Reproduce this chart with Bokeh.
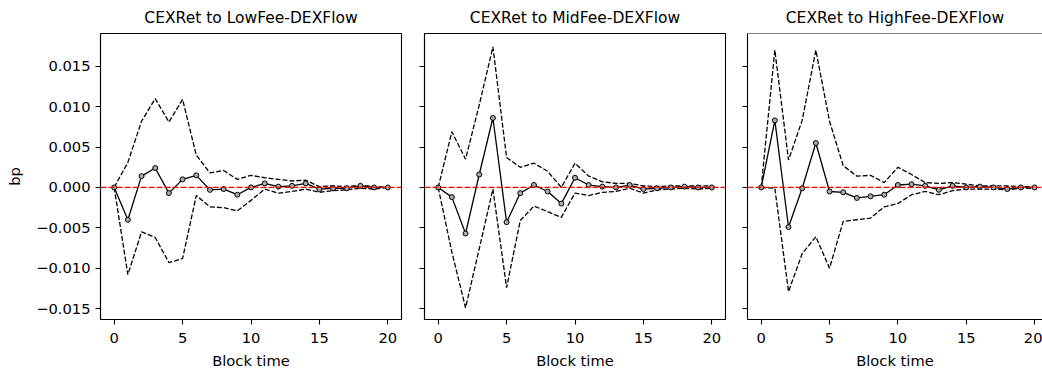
from bokeh.plotting import figure
from bokeh.layouts import row
from bokeh.models import Range1d, Span, FixedTicker, CustomJSTickFormatter
from bokeh.embed import file_html
from bokeh.resources import INLINE

steps = list(range(21))

titles = ["CEXRet to LowFee-DEXFlow", "CEXRet to MidFee-DEXFlow", "CEXRet to HighFee-DEXFlow"]

low_irf = [0, -0.0040, 0.0014, 0.0024, -0.0007, 0.0010, 0.0015, -0.0003, -0.0002, -0.0009, 0.0000,
           0.0005, 0.0001, 0.0002, 0.0005, -0.0002, -0.0001, -0.0001, 0.0002, -0.0000, 0.0000]
low_up = [0, 0.0031, 0.0082, 0.0110, 0.0081, 0.0109, 0.0040, 0.0018, 0.0021, 0.0010, 0.0015,
          0.0012, 0.0010, 0.0008, 0.0009, 0.0001, 0.0002, 0.0001, 0.0003, 0.0001, 0.0000]
low_lo = [0, -0.0108, -0.0055, -0.0062, -0.0093, -0.0088, -0.0010, -0.0024, -0.0025, -0.0029, -0.0016,
          -0.0002, -0.0007, -0.0005, -0.0002, -0.0006, -0.0004, -0.0003, -0.0001, -0.0002, 0.0000]

mid_irf = [0, -0.0012, -0.0057, 0.0016, 0.0086, -0.0043, -0.0007, 0.0003, -0.0005, -0.0020, 0.0012,
           0.0003, 0.0001, -0.0000, 0.0003, -0.0002, -0.0001, -0.0000, 0.0001, -0.0000, 0.0000]
mid_up = [0, 0.0069, 0.0035, 0.0102, 0.0174, 0.0037, 0.0025, 0.0030, 0.0020, 0.0000, 0.0030,
          0.0014, 0.0007, 0.0005, 0.0005, 0.0002, 0.0001, 0.0002, 0.0002, 0.0002, 0.0002]
mid_lo = [0, -0.0080, -0.0149, -0.0076, -0.0002, -0.0124, -0.0041, -0.0023, -0.0030, -0.0037, -0.0007,
          -0.0010, -0.0006, -0.0005, -0.0001, -0.0007, -0.0003, -0.0002, -0.0001, -0.0002, -0.0001]

high_irf = [0, 0.0083, -0.0049, -0.0001, 0.0055, -0.0005, -0.0006, -0.0013, -0.0011, -0.0009, 0.0003,
            0.0004, 0.0002, -0.0003, 0.0002, 0.0000, 0.0001, -0.0000, -0.0002, 0.0000, 0.0000]
high_up = [0, 0.0170, 0.0034, 0.0083, 0.0170, 0.0082, 0.0027, 0.0014, 0.0015, 0.0006, 0.0025,
           0.0016, 0.0006, 0.0005, 0.0006, 0.0004, 0.0002, 0.0002, 0.0002, 0.0001, 0.0001]
high_lo = [0, -0.0001, -0.0129, -0.0082, -0.0061, -0.0100, -0.0042, -0.0040, -0.0038, -0.0024, -0.0020,
           -0.0009, -0.0005, -0.0009, -0.0004, -0.0002, -0.0002, -0.0002, -0.0003, -0.0001, -0.0001]

series = [(low_irf, low_up, low_lo), (mid_irf, mid_up, mid_lo), (high_irf, high_up, high_lo)]

y_ticks = [-0.015, -0.010, -0.005, 0.0, 0.005, 0.010, 0.015]
x_ticks = [0, 5, 10, 15, 20]

FONT = "DejaVu Sans"
FS = "14.7px"
FS_TITLE = "15.5px"
Y0, Y1 = -0.01635, 0.01906

yfmt = CustomJSTickFormatter(code="""
if (Math.abs(tick) < 1e-12) return '0.000';
var s = Math.abs(tick).toFixed(3);
return tick < 0 ? '\u2212' + s : s;
""")
blank = CustomJSTickFormatter(code="return '';")

# (width, min_border_left, min_border_right, x_end)
geom = [(406, 100, 5, 21.0), (324, 18, 5, 21.0), (312, 17, 0, 20.58)]

figs = []
for i, (title, (irf, up, lo)) in enumerate(zip(titles, series)):
    w, bl, br, xend = geom[i]
    p = figure(width=w, height=373, output_backend="svg", toolbar_location=None,
               x_range=Range1d(-1.0, xend), y_range=Range1d(Y0, Y1),
               min_border_left=bl, min_border_right=br, min_border_top=31, min_border_bottom=54,
               title=title)
    p.title.align = "center"
    p.title.text_font = FONT
    p.title.text_font_size = FS_TITLE
    p.title.text_font_style = "normal"
    p.title.text_color = "black"
    p.title.standoff = 13
    p.xgrid.visible = False
    p.ygrid.visible = False
    p.background_fill_color = "white"
    p.border_fill_color = "white"
    if i < 2:
        p.outline_line_color = "black"
        p.outline_line_width = 1.1
    else:
        p.outline_line_color = None
        p.add_layout(Span(location=Y1, dimension="width", line_color="black", line_width=1.1))

    for ax in (p.xaxis[0], p.yaxis[0]):
        ax.axis_line_color = "black"
        ax.axis_line_width = 1.1
        ax.major_tick_line_color = "black"
        ax.major_tick_line_width = 1.1
        ax.major_tick_out = 5
        ax.major_tick_in = 0
        ax.minor_tick_line_color = None
        ax.major_label_text_font = FONT
        ax.major_label_text_font_size = FS
        ax.major_label_text_color = "black"
        ax.axis_label_text_font = FONT
        ax.axis_label_text_font_size = FS
        ax.axis_label_text_font_style = "normal"
        ax.axis_label_text_color = "black"

    p.xaxis.ticker = FixedTicker(ticks=x_ticks)
    p.xaxis.axis_label = "Block time"
    p.xaxis.major_label_standoff = 8
    p.xaxis.axis_label_standoff = 6
    p.yaxis.ticker = FixedTicker(ticks=y_ticks)
    if i == 0:
        p.yaxis.formatter = yfmt
        p.yaxis.axis_label = "bp"
        p.yaxis.axis_label_standoff = 10
    else:
        p.yaxis.formatter = blank

    p.line(steps, up, line_color="black", line_width=1.3, line_dash="5 2")
    p.line(steps, lo, line_color="black", line_width=1.3, line_dash="5 2")
    p.line(steps, irf, line_color="black", line_width=1.3)
    p.scatter(steps, irf, size=5, line_color="black", line_width=1, fill_color="#aaaaaa")
    p.add_layout(Span(location=0, dimension="width", line_color="red", line_width=1.3, line_dash="6 2"))
    figs.append(p)

layout = row(*figs, spacing=0)
open("out.html", "w").write(file_html(layout, INLINE))
